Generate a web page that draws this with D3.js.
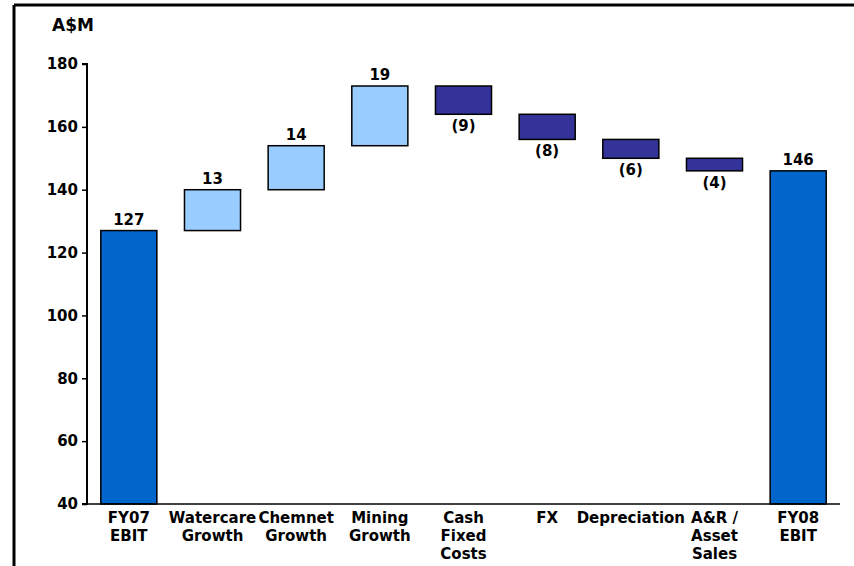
<!DOCTYPE html>
<html>
<head>
<meta charset="utf-8">
<script src="https://cdn.jsdelivr.net/npm/d3@7"></script>
<style>
  html, body { margin: 0; padding: 0; background: #fff; }
  svg text { font-family: "DejaVu Sans", Verdana, sans-serif; font-weight: bold; fill: #000; }
</style>
</head>
<body>
<svg id="chart" width="854" height="566"></svg>
<script>
// EBIT bridge, FY07 to FY08 (A$M)
const categories = [
  ["FY07", "EBIT"],
  ["Watercare", "Growth"],
  ["Chemnet", "Growth"],
  ["Mining", "Growth"],
  ["Cash", "Fixed", "Costs"],
  ["FX"],
  ["Depreciation"],
  ["A&R /", "Asset", "Sales"],
  ["FY08", "EBIT"]
];
const kinds = ["total", "up", "up", "up", "down", "down", "down", "down", "total"];
const values = [127, 13, 14, 19, -9, -8, -6, -4, 146];
const yTicks = [40, 60, 80, 100, 120, 140, 160, 180];
const yDomain = [40, 180];
const unitLabel = "A$M";

const colors = { total: "#0066CC", up: "#99CCFF", down: "#333399" };
const fontSize = 15;

const svg = d3.select("#chart");

// frame lines (top and left)
svg.append("line").attr("x1", 14).attr("x2", 854).attr("y1", 5).attr("y2", 5)
  .attr("stroke", "#000").attr("stroke-width", 3);
svg.append("line").attr("x1", 14).attr("x2", 14).attr("y1", 5).attr("y2", 566)
  .attr("stroke", "#000").attr("stroke-width", 3);

const plotLeft = 87, plotRight = 840, plotTop = 64, plotBottom = 504;

const x = d3.scaleBand().domain(d3.range(categories.length))
  .range([plotLeft, plotRight]).paddingInner(0.33).paddingOuter(0.165);
const y = d3.scaleLinear().domain(yDomain).range([plotBottom, plotTop]);

// running totals for the floating bars
let run = 0;
const bars = values.map((v, i) => {
  let lo, hi;
  if (kinds[i] === "total") { lo = yDomain[0]; hi = v; run = v; }
  else { const start = run; run = run + v; lo = Math.min(start, run); hi = Math.max(start, run); }
  return { i, v, kind: kinds[i], lo, hi };
});

svg.append("g").selectAll("rect").data(bars).join("rect")
  .attr("x", d => x(d.i))
  .attr("width", x.bandwidth())
  .attr("y", d => y(d.hi))
  .attr("height", d => y(d.lo) - y(d.hi))
  .attr("fill", d => colors[d.kind])
  .attr("stroke", "#000")
  .attr("stroke-width", 1.5);

// value labels: above for increases/totals, below for decreases
svg.append("g").selectAll("text").data(bars).join("text")
  .attr("x", d => x(d.i) + x.bandwidth() / 2)
  .attr("y", d => d.kind === "down" ? y(d.lo) + 17 : y(d.hi) - 6)
  .attr("text-anchor", "middle")
  .attr("font-size", fontSize)
  .text(d => d.v < 0 ? "(" + Math.abs(d.v) + ")" : d.v);

// y axis
const yAxis = d3.axisLeft(y).tickValues(yTicks).tickSize(5).tickPadding(4);
const gy = svg.append("g").attr("transform", `translate(${plotLeft},0)`).call(yAxis);
gy.select(".domain").attr("stroke", "#000").attr("stroke-width", 2).attr("d", `M-5,${plotTop}H0V${plotBottom}H-5`);
gy.selectAll(".tick line").attr("stroke", "#000").attr("stroke-width", 1.5);
gy.selectAll(".tick text").attr("font-size", fontSize).attr("font-family", "DejaVu Sans, Verdana, sans-serif")
  .attr("font-weight", "bold").attr("fill", "#000");

// x axis baseline
svg.append("line").attr("x1", plotLeft).attr("x2", plotRight).attr("y1", plotBottom).attr("y2", plotBottom)
  .attr("stroke", "#000").attr("stroke-width", 1.5);

// category labels
const cl = svg.append("g").selectAll("text").data(categories).join("text")
  .attr("text-anchor", "middle")
  .attr("font-size", fontSize)
  .attr("transform", (d, i) => `translate(${x(i) + x.bandwidth() / 2},523)`);
cl.selectAll("tspan").data(d => d).join("tspan")
  .attr("x", 0).attr("dy", (d, j) => j === 0 ? 0 : 18).text(d => d);

// unit label
svg.append("text").attr("x", 52).attr("y", 31).attr("font-size", 17).text(unitLabel);
</script>
</body>
</html>
